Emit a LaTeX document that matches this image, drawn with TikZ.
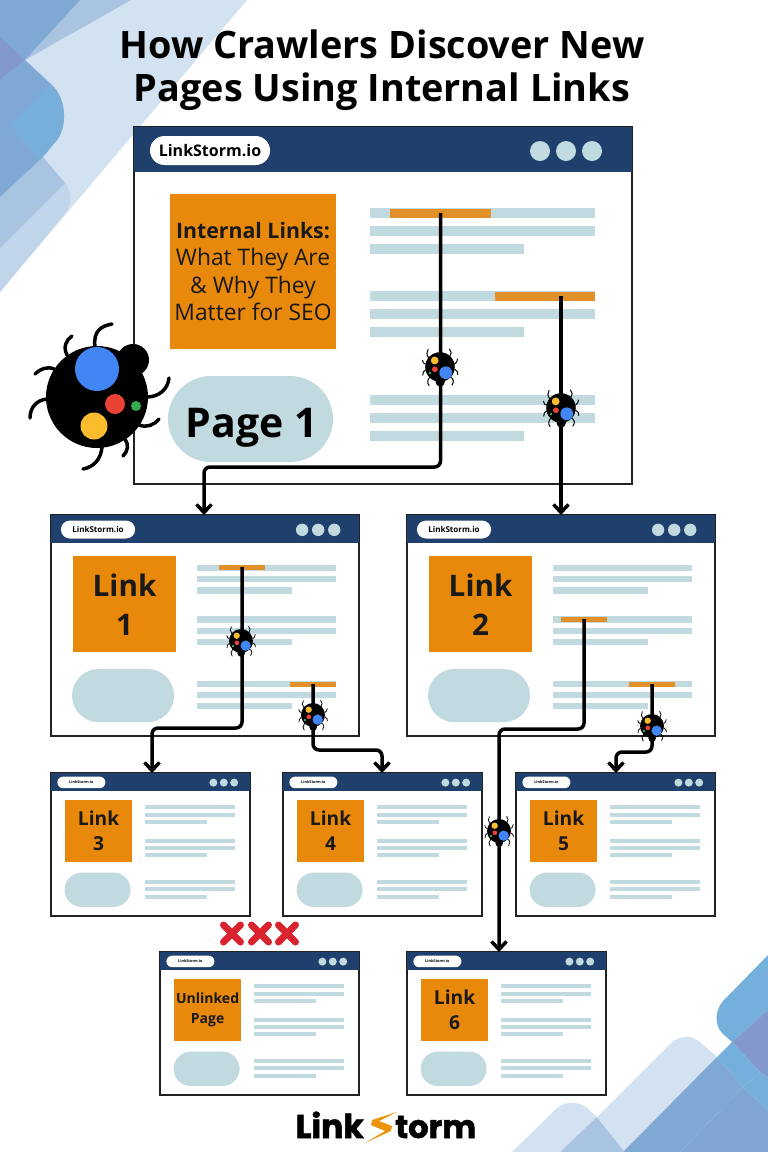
\documentclass[tikz,border=0pt]{standalone}
\usepackage{fontspec}
\setmainfont{Open Sans}
\newfontfamily\logofont[BoldFeatures={FakeBold=1.6}]{Poppins}
\usetikzlibrary{arrows.meta,shapes.misc}

\definecolor{navyhead}{HTML}{1F3F6D}
\definecolor{boxorange}{HTML}{E8890C}
\definecolor{barorange}{HTML}{E2912A}
\definecolor{paleteal}{HTML}{C1DAE0}
\definecolor{inkline}{HTML}{222222}
\definecolor{crossred}{HTML}{D9232E}
\definecolor{bugblue}{HTML}{4285F4}
\definecolor{bugred}{HTML}{EA4335}
\definecolor{buggreen}{HTML}{34A853}
\definecolor{bugyellow}{HTML}{FBBC2E}
\definecolor{skypale}{HTML}{D2E2F0}
\definecolor{skylight}{HTML}{C0D5E9}
\definecolor{skymid}{HTML}{A8C4E1}
\definecolor{skydeep}{HTML}{7FA9D4}
\definecolor{skybright}{HTML}{75B0DC}
\definecolor{skyviolet}{HTML}{8499CB}

\tikzset{
  pagebox/.style={draw=inkline,line width=1.8pt,fill=white,anchor=north west,inner sep=0pt,outer sep=0pt,
    minimum width=498pt,minimum height=357pt,transform shape},
  pillbox/.style={rounded rectangle,fill=white,inner sep=0pt,minimum width=120pt,minimum height=29pt,
    text=black,transform shape},
  orangebox/.style={fill=boxorange,inner sep=0pt,minimum width=166pt,minimum height=155pt,align=center,
    text=black!90,transform shape},
  blobbox/.style={rounded rectangle,fill=paleteal,inner sep=0pt,minimum width=165pt,minimum height=86pt,
    text=black,transform shape},
  linkbar/.style={fill=barorange,inner sep=0pt,outer sep=0pt},
  crawl/.style={draw=black,line width=3.5pt,rounded corners=6pt,-{Straight Barb[length=8pt,width=15pt]}},
  bigpage/.style={scale=1,pillbox/.append style={font=\fontsize{16}{16}\selectfont\bfseries}},
  midpage/.style={scale=0.6185,pillbox/.append style={font=\fontsize{13}{13}\selectfont\bfseries}},
  smallpage/.style={scale=0.4,pillbox/.append style={font=\fontsize{9.5}{9.5}\selectfont\bfseries}},
  introfont/.style={font=\fontsize{22.8}{27.5}\selectfont},
  linkfont/.style={font=\fontsize{48}{63}\selectfont\bfseries},
  unlinkedfont/.style={font=\fontsize{35}{50}\selectfont\bfseries},
}

% name, x, y, size of the page, font of the box, text of the box
\newcommand{\browser}[6]{
  \begin{scope}[shift={(#2,#3)},#4]
    \node[pagebox] (#1) at (0,0) {};
    \fill[navyhead] (0,0) rectangle (498,45);
    \node[pillbox] (#1pill) at (76,23.5) {LinkStorm.io};
    \foreach \dotx in {406,432,458}
      \fill[paleteal] (\dotx,24) circle (10);
    \node[orangebox,#5] (#1box) at (119,144.5) {#6};
    \node[blobbox] (#1blob) at (116.5,292) {};
    \foreach \liney in {86,169,273} {
      \fill[paleteal] (236,\liney-5) rectangle (461,\liney+5);
      \fill[paleteal] (236,\liney+13) rectangle (461,\liney+23);
      \fill[paleteal] (236,\liney+31) rectangle (390,\liney+41);
    }
  \end{scope}
}

% x, y, turn, scale, width of the legs
\newcommand{\bug}[5]{
  \begin{scope}[shift={(#1,#2)},rotate=#3,scale=#4]
    \draw[black,line width=#5,line cap=round]
      (-2,-50) .. controls (-4,-66) and (4,-71) .. (15,-73)
      (-30,-42) .. controls (-34,-50) and (-31,-57) .. (-25,-61)
      (-43,-28) .. controls (-50,-31) and (-57,-28) .. (-62,-23)
      (-50,2) .. controls (-60,3) and (-67,10) .. (-67,21)
      (50,0) .. controls (62,0) and (71,-8) .. (72,-19)
      (42,28) .. controls (50,31) and (57,28) .. (62,22)
      (28,42) .. controls (32,48) and (31,54) .. (26,59)
      (5,50) .. controls (4,62) and (-3,70) .. (-14,72);
    \fill[black] (0,0) circle (51);
    \fill[black] (36,-37) circle (16);
    \fill[bugblue] (0,-28) circle (22);
    \fill[bugred] (18,7) circle (10);
    \fill[buggreen] (39,9) circle (5);
    \fill[bugyellow] (-3,29) circle (13.5);
  \end{scope}
}

\begin{document}
\begin{tikzpicture}[x=1pt,y=-1pt]
  \useasboundingbox (0,0) rectangle (768,1152);

  % corner top left
  \fill[skypale] (0,0) -- (247,0) -- (0,292) -- cycle;
  \fill[skylight] (0,248) -- (65,183) .. controls (72,192) and (72,203) .. (66,212) -- (0,292) -- cycle;
  \fill[skymid] (80,0) -- (131,0) -- (25,60) -- cycle;
  \fill[skymid] (0,197) -- (43,157) -- (65,183) -- (0,248) -- cycle;
  \fill[skydeep] (0,0) -- (80,0) -- (25,60) -- (0,80) -- cycle;
  \fill[skyviolet] (0,37) -- (25,60) -- (0,80) -- cycle;
  \fill[skydeep] (0,80) -- (25,60) -- (52,85) .. controls (66,98) and (68,125) .. (57,140) -- (43,157) -- (0,197) -- cycle;
  \fill[skybright!70!skydeep] (10,125) -- (49,84) .. controls (66,98) and (68,125) .. (57,140) -- (39,160) -- cycle;

  % corner bottom right
  \fill[skypale] (512,1152) -- (557,1108) .. controls (566,1101) and (578,1101) .. (587,1108) -- (597,1117) -- (560,1152) -- cycle;
  \fill[skymid] (597,1117) -- (560,1152) -- (625,1152) -- cycle;
  \fill[skypale] (597,1117) -- (672,1042) .. controls (682,1035) and (692,1035) .. (700,1042) -- (717,1057) -- (623,1152) -- (625,1152) -- cycle;
  \fill[skydeep] (717,1057) -- (623,1152) -- (680,1152) -- (743,1087) -- cycle;
  \fill[skydeep!90!skyviolet] (743,1087) -- (680,1152) -- (768,1152) -- (768,1110) -- cycle;
  \fill[skybright] (768,955) -- (727,997) .. controls (714,1008) and (714,1024) .. (722,1033) -- (732,1042) -- (768,1010) -- cycle;
  \fill[skyviolet] (768,1010) -- (732,1042) -- (760,1072) -- (768,1077) -- cycle;
  \fill[skybright] (732,1042) -- (717,1057) -- (743,1087) -- (760,1072) -- cycle;
  \fill[skybright!70!skydeep] (760,1072) -- (743,1087) -- (768,1110) -- (768,1077) -- cycle;

  \node[align=center,font=\fontsize{37.8}{43}\selectfont\bfseries] (heading) at (382,70)
    {How Crawlers Discover New\\Pages Using Internal Links};

  % the pages
  \browser{pageone}{134}{127}{bigpage}{introfont}{{\fontsize{21.3}{27.5}\selectfont\bfseries Internal Links:}\\What They Are\\\& Why They\\Matter for SEO}
  \browser{linkone}{51}{515}{midpage}{linkfont}{Link\\1}
  \browser{linktwo}{407}{515}{midpage}{linkfont}{Link\\2}
  \browser{linkthree}{51}{773}{smallpage}{linkfont}{Link\\3}
  \browser{linkfour}{283}{773}{smallpage}{linkfont}{Link\\4}
  \browser{linkfive}{516}{773}{smallpage}{linkfont}{Link\\5}
  \browser{unlinked}{160}{952}{smallpage}{unlinkedfont}{Unlinked\\Page}
  \browser{linksix}{407}{952}{smallpage}{linkfont}{Link\\6}
  \node[anchor=base,font=\fontsize{41}{41}\selectfont\bfseries] (pagename) at (251.5,437) {Page 1};

  % the links in the pages
  \node[linkbar,minimum width=101pt,minimum height=9pt] (bara) at (440.5,213) {};
  \node[linkbar,minimum width=100pt,minimum height=9pt] (barb) at (545,296) {};
  \node[linkbar,minimum width=46pt,minimum height=5pt] (barc) at (242,567) {};
  \node[linkbar,minimum width=46pt,minimum height=5pt] (bard) at (313,684) {};
  \node[linkbar,minimum width=46pt,minimum height=5pt] (bare) at (584,619) {};
  \node[linkbar,minimum width=46pt,minimum height=5pt] (barf) at (652,684) {};

  % turning points
  \coordinate (turna) at (204,467);
  \coordinate (turnb) at (152,728);
  \coordinate (turnc) at (382,750);
  \coordinate (turnd) at (499,729);
  \coordinate (turne) at (616,752);
  \coordinate (dropb) at (561,400);

  \draw[crawl] (bara.center) |- (turna) -- (turna |- linkone.north);
  \draw[crawl] (dropb |- barb.center) -- (dropb |- linktwo.north);
  \draw[crawl] (barc.center) |- (turnb) -- (turnb |- linkthree.north);
  \draw[crawl] (bard.center) |- (turnc) -- (turnc |- linkfour.north);
  \draw[crawl] (bare.center) |- (turnd) -- (turnd |- linksix.north);
  \draw[crawl] (barf.center) |- (turne) -- (turne |- linkfive.north);

  % crawlers
  \bug{97}{397}{0}{1}{3.5pt}
  \bug{440}{367}{-135}{0.29}{1pt}
  \bug{561}{408}{-135}{0.29}{1pt}
  \bug{241}{641}{-135}{0.235}{0.8pt}
  \bug{313}{715}{-135}{0.235}{0.8pt}
  \bug{652}{726}{-135}{0.235}{0.8pt}
  \bug{499}{831}{-135}{0.235}{0.8pt}

  % no way in
  \foreach \crossx in {232,260,287}
    \draw[crossred,line width=7pt,line cap=round] (\crossx-8.5,925) -- (\crossx+8.5,942) (\crossx-8.5,942) -- (\crossx+8.5,925);

  % logo
  \node[anchor=base east,inner sep=0pt,font=\logofont\fontsize{33}{33}\selectfont\bfseries] (logoleft) at (364,1138) {Link};
  \node[anchor=base west,inner sep=0pt,font=\logofont\fontsize{32}{32}\selectfont\bfseries] (logoright) at (395,1138) {torm};
  \fill[boxorange!90!yellow] (397,1112) -- (372,1120) -- (371,1125) -- (385,1131) -- (365,1143) -- (391,1131) -- (392,1126) -- (379,1121) -- cycle;
\end{tikzpicture}
\end{document}
